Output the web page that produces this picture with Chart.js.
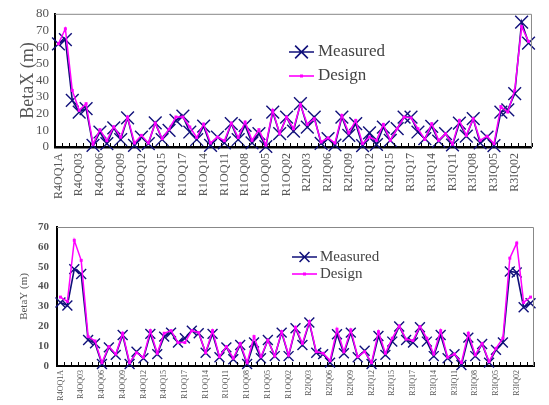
<!DOCTYPE html>
<html>
<head>
<meta charset="utf-8">
<script src="https://cdn.jsdelivr.net/npm/chart.js@4.4.0/dist/chart.umd.min.js"></script>
<style>
  body { margin: 0; background: #fff; }
  #wrap { position: relative; width: 549px; height: 405px; }
  canvas { position: absolute; left: 0; }
</style>
</head>
<body>
<div id="wrap">
  <canvas id="bx" width="549" height="205" style="top:0"></canvas>
  <canvas id="by" width="549" height="200" style="top:205px"></canvas>
</div>
<script>
const quads = [
  'R4OQ1A','R4OQ1B','R4OQ02','R4OQ03','R4OQ04','R4OQ05','R4OQ06','R4OQ07','R4OQ08','R4OQ09',
  'R4OQ10','R4OQ11','R4OQ12','R4OQ13','R4OQ14','R4OQ15','R4OQ16','R4OQ17',
  'R1OQ17','R1OQ16','R1OQ15','R1OQ14','R1OQ13','R1OQ12','R1OQ11','R1OQ10','R1OQ09','R1OQ08',
  'R1OQ07','R1OQ06','R1OQ05','R1OQ04','R1OQ03','R1OQ02','R1OQ01',
  'R2IQ02','R2IQ03','R2IQ04','R2IQ05','R2IQ06','R2IQ07','R2IQ08','R2IQ09','R2IQ10','R2IQ11',
  'R2IQ12','R2IQ13','R2IQ14','R2IQ15','R2IQ16','R2IQ17',
  'R3IQ17','R3IQ16','R3IQ15','R3IQ14','R3IQ13','R3IQ12','R3IQ11','R3IQ10','R3IQ09','R3IQ08',
  'R3IQ07','R3IQ06','R3IQ05','R3IQ04','R3IQ03','R3IQ02','R3IQ1B','R3IQ1A'
];

const betaXMeasured = [62,64.5,28,21,23,1,9,2,11.5,4.5,17.5,1,6,2,14.5,4.5,10,16,18.5,9,
  4.5,12.5,1,6,2.5,14,4.5,13,2.5,8,0.3,21,8,18,9.5,26,12,18,2.2,5,
  1.2,18,7,14,0.8,8.5,1.5,12,4,11,18,18,9,5,12.4,3.5,8,1.2,14.4,6.5,
  17,2.4,6,0.8,21,22.3,32,75,62.4];
const betaXDesign = [62,71,34,22,26,1.7,10.4,3.8,12.2,5.9,18,2.4,7,2.4,14.4,5,10.7,18,18,12,
  5.7,13.8,2.4,6,3.8,14.4,5.7,15,4,10.4,1.2,22,8,18,11,25.5,13.6,17,3,5.5,
  2.4,19,8.4,16,2,6,4,13.6,4,11,18,17.5,11,4.5,14,4,8,1.7,16,7,
  17,4,6.5,2,24.3,21,34,72.3,63.4];

const betaYMeasured = [32,30.5,48.8,46.3,13.1,11.4,1,9.4,5.6,15.6,1,7.2,3.9,16.2,6,14.8,16.8,11.8,14,17.8,
  16.5,6.7,16.2,4.4,9.4,3.4,10.6,1,11.8,3.9,13.1,5,16.8,5,19,10.6,21.9,6.7,6,1.7,
  16,6.4,16.8,4.4,7.7,1,15.1,5.6,12.3,19.9,13.1,11.8,19.5,12.3,5,15.6,3.9,6,0.5,14.3,
  5,11.1,1.7,8.1,11.8,47.6,47.1,29.6,31.6];
const betaYDesign = [34.7,32.5,63.3,53.2,14.8,12.6,1.7,9.8,6,16.5,1.7,6.7,4.4,17.8,6.4,16.5,17.8,11.8,11.8,17.8,
  16.8,6.7,17.8,4.7,9.8,3.9,11.4,1.7,14.8,4.7,13,5,17.3,5.5,19.5,11.4,22.4,7.2,6.4,2.7,
  18.5,7.2,18.2,4.7,7.2,1.7,17.3,6.4,14,20.2,13.5,12.8,19.9,14,6,17.8,4.4,6,1.7,16.5,
  5.6,11.4,2.2,8.9,14,54.3,61.9,32,34.7];

const betaXTicks = [0,10,20,30,40,50,60,70,80];
const betaYTicks = [0,10,20,30,40,50,60,70];

const NAVY = '#10107a';
const MAGENTA = '#ff00ff';
const SERIF = '"Liberation Serif", "Times New Roman", serif';

// frame, inward ticks on the category axis, and the in-plot legend
const decor = {
  id: 'decor',
  afterDraw(chart, args, o) {
    const { ctx, chartArea: a, scales: { x } } = chart;
    ctx.save();
    ctx.strokeStyle = '#888';
    ctx.lineWidth = 1;
    ctx.beginPath();
    ctx.moveTo(a.left, a.top + 0.5);
    ctx.lineTo(a.right - 0.5, a.top + 0.5);
    ctx.lineTo(a.right - 0.5, a.bottom);
    ctx.stroke();

    ctx.strokeStyle = '#000';
    ctx.beginPath();
    for (let i = 0; i <= quads.length; i++) {
      const px = Math.round(x.getPixelForValue(i - 0.5)) + 0.5;
      ctx.moveTo(px, a.bottom);
      ctx.lineTo(px, a.bottom - o.tick);
    }
    ctx.stroke();

    const L = o.legend;
    const mid = (L.x0 + L.x1) / 2;
    ctx.lineWidth = 1.6;
    ctx.strokeStyle = NAVY;
    ctx.beginPath();
    ctx.moveTo(L.x0, L.y1); ctx.lineTo(L.x1, L.y1);
    const d = L.r * 0.707;
    ctx.moveTo(mid - d, L.y1 - d); ctx.lineTo(mid + d, L.y1 + d);
    ctx.moveTo(mid - d, L.y1 + d); ctx.lineTo(mid + d, L.y1 - d);
    ctx.stroke();
    ctx.strokeStyle = MAGENTA;
    ctx.beginPath();
    ctx.moveTo(L.x0, L.y2); ctx.lineTo(L.x1, L.y2);
    ctx.stroke();
    ctx.fillStyle = MAGENTA;
    ctx.fillRect(mid - 1.5, L.y2 - 1.5, 3, 3);

    ctx.fillStyle = '#444';
    ctx.font = L.font;
    ctx.textBaseline = 'middle';
    ctx.fillText('Measured', L.tx, L.y1);
    ctx.fillText('Design', L.tx, L.y2);
    ctx.restore();
  }
};

function makeChart(id, cfg) {
  return new Chart(document.getElementById(id), {
    type: 'line',
    data: {
      labels: quads,
      datasets: [
        { label: 'Design', data: cfg.design, borderColor: MAGENTA, backgroundColor: MAGENTA,
          borderWidth: 1.5, pointStyle: 'rect', pointRadius: 2.1, pointBorderWidth: 0,
          tension: 0, clip: false },
        { label: 'Measured', data: cfg.measured, borderColor: NAVY, backgroundColor: NAVY,
          borderWidth: 1.6, pointStyle: 'crossRot', pointRadius: cfg.markR, pointBorderWidth: 1.4,
          tension: 0, clip: false }
      ]
    },
    options: {
      responsive: false,
      animation: false,
      devicePixelRatio: 1,
      layout: { padding: cfg.pad },
      plugins: { legend: { display: false }, tooltip: { enabled: false }, decor: cfg.decor },
      scales: {
        x: {
          offset: true,
          grid: { display: false, drawTicks: false },
          border: { display: true, color: '#000', width: cfg.xBorder },
          afterFit: s => { s.height = cfg.xH; },
          ticks: {
            autoSkip: false, minRotation: 90, maxRotation: 90, padding: cfg.xPad,
            color: '#555', font: { family: SERIF, size: cfg.xFont },
            callback: (v, i) => (i % 3 === 0 ? quads[i] : '')
          }
        },
        y: {
          min: 0, max: cfg.yTicks[cfg.yTicks.length - 1],
          grid: { display: false, drawTicks: false },
          border: { display: true, color: '#000', width: 2 },
          afterFit: s => { s.width = cfg.yW; },
          afterBuildTicks: s => { s.ticks = cfg.yTicks.map(v => ({ value: v })); },
          ticks: { autoSkip: false, padding: cfg.yPad, color: '#555',
            font: { family: SERIF, size: cfg.yFont, weight: cfg.yWeight } },
          title: { display: true, text: cfg.title, color: '#555',
            font: { family: SERIF, size: cfg.titleSize }, padding: { top: cfg.titlePad, bottom: 0 } }
        }
      }
    },
    plugins: [decor]
  });
}

makeChart('bx', {
  measured: betaXMeasured, design: betaXDesign, yTicks: betaXTicks, markR: 9,
  pad: { top: 12, right: 6, left: 0, bottom: 0 }, yW: 55, xH: 58, xBorder: 2.5,
  xPad: 6, xFont: 12, yPad: 6, yFont: 13, yWeight: 'normal',
  title: 'BetaX (m)', titleSize: 18, titlePad: 17,
  decor: { tick: 4, legend: { x0: 289, x1: 314, y1: 52, y2: 76, r: 9, tx: 318, font: '17px ' + SERIF } }
});

makeChart('by', {
  measured: betaYMeasured, design: betaYDesign, yTicks: betaYTicks, markR: 7,
  pad: { top: 22, right: 15, left: 0, bottom: 0 }, yW: 57, xH: 39, xBorder: 2,
  xPad: 4, xFont: 8, yPad: 8, yFont: 11, yWeight: 'bold',
  title: 'BetaY (m)', titleSize: 11, titlePad: 18,
  decor: { tick: 4, legend: { x0: 292, x1: 317, y1: 52, y2: 69, r: 7, tx: 320, font: '15px ' + SERIF } }
});
</script>
</body>
</html>
